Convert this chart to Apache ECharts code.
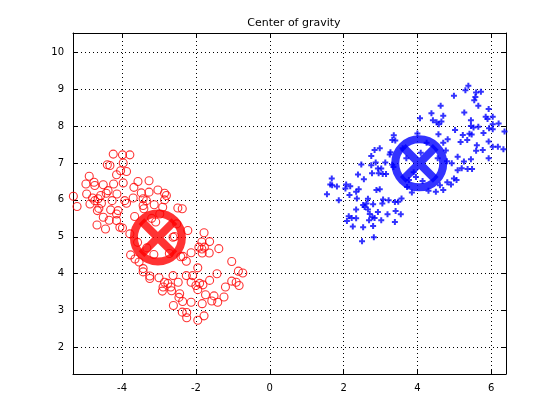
<!DOCTYPE html>
<html>
<head>
<meta charset="utf-8">
<script src="https://cdn.jsdelivr.net/npm/echarts@6/dist/echarts.min.js"></script>
<style>html,body{margin:0;padding:0;background:#fff}#c{width:560px;height:420px}</style>
</head>
<body>
<div id="c"></div>
<script>
var titleText = 'Center of gravity';
var xTicks = [-4, -2, 0, 2, 4, 6];
var yTicks = [2, 3, 4, 5, 6, 7, 8, 9, 10];
var redCenter = [[-3.03, 4.98]];
var blueCenter = [[4.05, 6.99]];
var redPts = [
[-4.24,7.24],[-3.99,7.22],[-3.79,7.22],[-3.97,7.0],[-4.40,6.95],[-4.33,6.93],[-4.04,6.79],[-3.88,6.77],
[-4.15,6.68],[-4.89,6.64],[-4.98,6.43],[-4.76,6.48],[-4.74,6.39],[-4.51,6.41],[-4.23,6.43],[-3.97,6.46],
[-3.57,6.50],[-3.27,6.52],[-3.68,6.34],[-4.38,6.25],[-4.43,6.18],[-4.14,6.16],[-4.96,6.16],[-5.32,6.10],
[-5.22,5.82],[-4.74,5.98],[-4.65,6.03],[-4.56,5.91],[-4.87,5.89],[-4.63,5.77],[-4.27,5.98],[-3.93,5.98],
[-3.88,5.91],[-3.48,6.19],[-3.27,6.21],[-3.03,6.27],[-2.85,6.18],[-2.80,6.12],[-3.43,6.03],[-3.34,5.98],
[-3.13,5.87],[-3.43,5.85],[-3.41,5.76],[-2.85,6.00],[-2.49,5.78],[-2.37,5.76],[-4.67,5.71],[-4.31,5.73],
[-4.15,5.62],[-4.11,5.71],[-4.51,5.53],[-4.15,5.44],[-4.06,5.26],[-4.68,5.32],[-4.45,5.21],[-3.99,5.24],
[-3.09,5.40],[-3.79,5.08],[-2.22,5.17],[-2.62,4.99],[-2.58,5.01],[-1.78,5.11],[-1.84,4.86],[-1.63,4.87],
[-1.92,4.72],[-1.84,4.67],[-1.77,4.72],[-1.64,4.56],[-1.83,4.56],[-1.38,4.68],[-3.77,4.51],[-3.65,4.40],
[-3.54,4.32],[-3.43,4.14],[-3.43,4.05],[-3.25,3.94],[-3.25,3.87],[-3.00,3.89],[-2.85,3.77],[-2.76,3.74],
[-2.89,3.64],[-2.91,3.53],[-2.68,3.64],[-2.62,3.95],[-2.35,4.47],[-2.26,4.34],[-2.13,4.57],[-2.26,3.95],
[-2.13,3.77],[-2.09,3.95],[-2.00,3.68],[-1.95,3.57],[-1.90,3.74],[-1.81,3.70],[-1.95,4.16],[-1.63,3.82],
[-1.43,4.00],[-1.74,3.43],[-1.83,3.19],[-1.57,3.26],[-1.51,3.40],[-1.41,3.23],[-1.24,3.37],[-1.20,3.64],
[-1.03,4.33],[-1.03,3.80],[-0.91,3.77],[-0.85,4.07],[-0.73,4.02],[-0.83,3.68],[-2.61,3.14],[-2.44,3.46],
[-2.36,3.25],[-2.37,2.96],[-2.25,2.95],[-2.25,2.81],[-2.13,3.23],[-1.95,2.74],[-1.78,2.86],[-2.48,3.77],
[-2.46,3.36],[-2.66,3.54],[-3.14,4.52],[-3.33,4.70],[-2.72,4.55],[-2.41,4.46],[-3.58,4.85],[-2.52,5.35],
[-3.66,5.55],[-2.98,5.62],[-3.20,5.50],[-2.90,5.80],[-4.35,5.45],[-4.80,6.05],[-4.58,6.12],[-3.70,6.05]
];
var bluePts = [
[5.38,9.09],[5.30,8.97],[4.99,8.82],[5.59,8.91],[5.72,8.93],[5.54,8.70],[5.57,8.79],[4.63,8.55],
[5.65,8.55],[5.93,8.46],[5.27,8.37],[4.38,8.35],[4.70,8.28],[4.07,8.21],[4.42,8.16],[4.52,8.10],
[4.58,8.05],[4.65,8.12],[5.85,8.25],[5.90,8.19],[6.04,8.25],[5.45,8.16],[6.20,8.07],[6.04,8.05],
[5.45,8.00],[5.52,7.96],[5.65,7.98],[5.94,7.94],[6.04,7.91],[5.02,7.89],[4.57,7.78],[4.00,7.80],
[5.23,7.76],[5.41,7.79],[5.47,7.77],[5.79,7.81],[6.36,7.85],[6.42,7.67],[3.36,7.75],[3.32,7.62],
[3.40,7.61],[4.82,7.64],[4.70,7.55],[5.17,7.57],[5.35,7.62],[5.93,7.58],[6.04,7.44],[6.18,7.44],
[6.33,7.37],[5.61,7.48],[5.59,7.33],[5.77,7.35],[4.09,7.28],[4.77,7.34],[2.98,7.40],[2.84,7.35],
[2.75,7.19],[3.27,7.29],[3.25,7.23],[3.70,7.13],[4.55,7.13],[5.09,7.17],[5.45,7.10],[5.93,7.13],
[5.26,7.04],[4.93,6.99],[3.13,7.01],[2.87,7.01],[2.48,6.96],[2.75,6.94],[3.32,6.95],[3.35,6.89],
[5.20,6.86],[5.36,6.84],[5.48,6.84],[2.93,6.85],[3.02,6.85],[5.09,6.80],[2.39,6.69],[2.95,6.72],
[3.06,6.70],[3.15,6.70],[2.77,6.72],[2.55,6.56],[3.96,6.62],[4.14,6.51],[3.77,6.54],[4.99,6.58],
[5.06,6.54],[4.81,6.48],[4.91,6.42],[1.68,6.58],[1.64,6.42],[1.69,6.40],[1.82,6.36],[2.07,6.42],
[2.18,6.37],[2.05,6.31],[2.41,6.29],[2.34,6.22],[2.89,6.27],[2.98,6.29],[1.55,6.15],[2.16,6.13],
[2.36,6.04],[2.66,6.03],[1.87,5.99],[3.07,6.01],[3.22,5.99],[3.39,5.94],[3.48,5.95],[3.57,6.04],
[4.50,6.22],[4.70,6.27],[4.61,6.40],[2.53,5.86],[2.57,5.81],[2.62,5.90],[2.66,5.74],[2.80,5.88],
[3.05,5.90],[2.34,5.74],[2.14,5.56],[2.22,5.51],[2.34,5.50],[2.71,5.62],[2.78,5.53],[2.84,5.51],
[2.93,5.67],[3.19,5.61],[3.41,5.70],[3.55,5.61],[2.09,5.43],[2.25,5.28],[2.53,5.26],[2.69,5.45],
[2.80,5.29],[3.02,5.45],[3.39,5.40],[2.50,4.88],[2.82,4.99],[3.72,6.35],[3.85,6.20],[4.30,6.25],
[3.60,7.40],[4.25,7.55],[4.80,7.05],[3.90,6.75]
];

var chart = echarts.init(document.getElementById('c'));
var font = 'DejaVu Sans';
function xAx(pos, show) {
  return {
    type: 'value', position: pos, min: -5.33, max: 6.40, interval: 2,
    axisLine: {show: true, onZero: false, lineStyle: {color: '#000', width: 1}},
    axisTick: {show: true, inside: true, length: 5, lineStyle: {color: '#000'},
      customValues: xTicks},
    axisLabel: {show: show, color: '#000', fontFamily: font, fontSize: 10, margin: 9,
      customValues: xTicks},
    splitLine: {show: show, lineStyle: {color: '#000', type: [1, 3], width: 1}},
    customValues: xTicks
  };
}
function yAx(pos, show) {
  return {
    type: 'value', position: pos, min: 1.285, max: 10.52,
    axisLine: {show: true, onZero: false, lineStyle: {color: '#000', width: 1}},
    axisTick: {show: true, inside: true, length: 5, lineStyle: {color: '#000'},
      customValues: yTicks},
    axisLabel: {show: show, color: '#000', fontFamily: font, fontSize: 10, margin: 9,
      customValues: yTicks},
    splitLine: {show: show, lineStyle: {color: '#000', type: [1, 3], width: 1}}
  };
}
var plusPath = 'path://M1,0H2V1H3V2H2V3H1V2H0V1H1Z';
var xPath = 'path://M0,0L10,10M10,0L0,10';
chart.setOption({
  animation: false,
  backgroundColor: '#fff',
  title: {text: titleText, left: 289, top: 13, textAlign: 'center',
    textStyle: {fontFamily: font, fontSize: 11, fontWeight: 'normal', color: '#000'}},
  grid: {left: 73, right: 54, top: 33, bottom: 46, containLabel: false},
  xAxis: [xAx('bottom', true), xAx('top', false)],
  yAxis: [yAx('left', true), yAx('right', false)],
  series: [
    {type: 'scatter', data: redPts, symbol: 'circle', symbolSize: 8, silent: true,
     itemStyle: {color: 'rgba(0,0,0,0)', borderColor: '#ff0000', borderWidth: 1.1}},
    {type: 'scatter', data: redCenter, symbol: 'circle', symbolSize: 48, silent: true,
     itemStyle: {color: 'rgba(0,0,0,0)', borderColor: '#ff0000', borderWidth: 8}},
    {type: 'scatter', data: redCenter, symbol: xPath, symbolSize: 33, silent: true,
     itemStyle: {color: 'rgba(0,0,0,0)', borderColor: '#ff0000', borderWidth: 8}},
    {type: 'scatter', data: blueCenter, symbol: 'circle', symbolSize: 48, silent: true,
     itemStyle: {color: 'rgba(0,0,0,0)', borderColor: '#0000ff', borderWidth: 8}},
    {type: 'scatter', data: blueCenter, symbol: xPath, symbolSize: 33, silent: true,
     itemStyle: {color: 'rgba(0,0,0,0)', borderColor: '#0000ff', borderWidth: 8}},
    {type: 'scatter', data: bluePts, symbol: plusPath, symbolSize: 6, silent: true,
     itemStyle: {color: '#0000ff'}}
  ]
});
</script>
</body>
</html>
